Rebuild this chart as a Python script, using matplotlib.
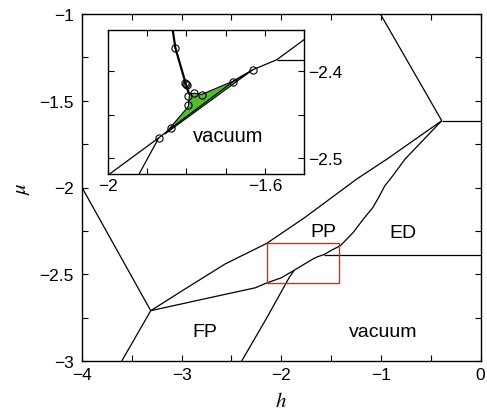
import matplotlib
matplotlib.use("Agg")
import matplotlib.pyplot as plt
from matplotlib.patches import Rectangle, Polygon
from matplotlib.ticker import MultipleLocator, FixedLocator

plt.rcParams['font.family'] = ['Liberation Sans', 'DejaVu Sans']
plt.rcParams['mathtext.fontset'] = 'stix'

# ---- data (h, mu) ----
# boundary from (-4,-2) to triple point
left_h = [-4.0, -3.31]
left_mu = [-2.0, -2.71]
# triple point down to bottom
fp_left_h = [-3.31, -3.601]
fp_left_mu = [-2.71, -3.0]
# upper curve (PP upper boundary)
upper_h = [-3.31, -2.966, -2.564, -2.146, -1.761, -1.242, -0.938, -0.389]
upper_mu = [-2.71, -2.585, -2.441, -2.322, -2.172, -1.951, -1.836, -1.615]
# lower curve (FP / vacuum / PP / ED)
lower_h = [-3.31, -2.70, -2.26, -2.146, -2.0, -1.870, -1.838, -1.682, -1.631,
           -1.570, -1.5, -1.406, -1.276, -1.176, -1.08, -1.02, -0.96, -0.88, -0.757, -0.389]
lower_mu = [-2.71, -2.633, -2.578, -2.550, -2.5206, -2.477, -2.4656, -2.4121, -2.3981,
            -2.3865, -2.363, -2.335, -2.258, -2.182, -2.115, -2.055, -1.99, -1.932, -1.836, -1.615]
# FP / vacuum boundary
fpv_h = [-2.397, -2.146, -1.922, -1.870]
fpv_mu = [-3.0, -2.752, -2.5206, -2.477]
# top line into the point at right
top_h = [-1.005, -0.389]
top_mu = [-1.0, -1.615]
# horizontal lines
hr1_h = [-0.389, 0.0]
hr1_mu = [-1.615, -1.615]
hr2_h = [-1.570, 0.0]
hr2_mu = [-2.3865, -2.3865]
# steep line in inset
steep_h = [-1.835, -1.828, -1.801, -1.793]
steep_mu = [-2.3508, -2.3726, -2.4151, -2.4264]
# green region
green_h = [-1.855, -1.795, -1.792, -1.780, -1.761, -1.682, -1.631]
green_mu = [-2.4728, -2.4407, -2.4264, -2.4252, -2.4267, -2.4115, -2.3981]
# circles
circ_h = [-1.828, -1.801, -1.803, -1.799, -1.795, -1.780, -1.761, -1.795, -1.682, -1.631, -1.838, -1.870]
circ_mu = [-2.3726, -2.4151, -2.4140, -2.4160, -2.429, -2.425, -2.427, -2.439, -2.412, -2.398, -2.4656, -2.477]
# zoom box
box_h = [-2.146, -1.417]
box_mu = [-2.552, -2.318]

main_xticks = [-4, -3, -2, -1, 0]
main_yticks = [-1, -1.5, -2, -2.5, -3]

fig = plt.figure(figsize=(4.87, 4.14), dpi=100)
ax = fig.add_axes([82/487, 1-362/414, (480.5-82)/487, (362-15)/414])

lw = 0.9
def draw(a, hs, ms, **kw):
    a.plot(hs, ms, color='black', lw=kw.pop('lw', lw), solid_capstyle='butt', **kw)

draw(ax, left_h, left_mu)
draw(ax, fp_left_h, fp_left_mu)
draw(ax, upper_h, upper_mu)
draw(ax, lower_h, lower_mu)
draw(ax, fpv_h, fpv_mu)
draw(ax, top_h, top_mu)
draw(ax, hr1_h, hr1_mu)
draw(ax, hr2_h, hr2_mu)

ax.add_patch(Rectangle((box_h[0], box_mu[0]), box_h[1]-box_h[0], box_mu[1]-box_mu[0],
                       fill=False, edgecolor='#e82020', lw=1.0, zorder=5))

ax.set_xlim(-4, 0)
ax.set_ylim(-3, -1)
ax.xaxis.set_major_locator(FixedLocator(main_xticks))
ax.xaxis.set_minor_locator(MultipleLocator(0.5))
ax.yaxis.set_major_locator(FixedLocator(main_yticks))
ax.yaxis.set_minor_locator(MultipleLocator(0.25))
ax.set_xticklabels(['\u22124', '\u22123', '\u22122', '\u22121', '0'])
ax.set_yticklabels(['\u22121', '\u22121.5', '\u22122', '\u22122.5', '\u22123'])
ax.tick_params(which='both', direction='in', top=True, right=True, length=4.5, width=0.8,
               labelsize=12.5)
ax.tick_params(axis='y', pad=6)
ax.tick_params(axis='x', pad=4)
for s in ax.spines.values():
    s.set_linewidth(1.0)
ax.set_xlabel('$h$', fontsize=15, labelpad=7)
ax.set_ylabel('$\\mu$', fontsize=15, labelpad=5)

ax.text(-1.577, -2.252, 'PP', fontsize=14, ha='center', va='center')
ax.text(-0.774, -2.262, 'ED', fontsize=14, ha='center', va='center')
ax.text(-2.765, -2.831, 'FP', fontsize=14, ha='center', va='center')
ax.text(-0.98, -2.831, 'vacuum', fontsize=14, ha='center', va='center')

# ---- inset ----
ins = fig.add_axes([107.7/487, 1-175/414, (304.3-107.7)/487, (175-31)/414])
ins.set_facecolor('white')
ins.add_patch(Polygon(list(zip(green_h, green_mu)), closed=True, facecolor='#55bb33',
                      edgecolor='black', lw=0.8, zorder=2))
draw(ins, lower_h, lower_mu, zorder=3)
draw(ins, fpv_h, fpv_mu, zorder=3)
draw(ins, hr2_h, hr2_mu, zorder=3)
draw(ins, upper_h, upper_mu, zorder=3)
draw(ins, steep_h, steep_mu, lw=1.6, zorder=3)
ins.plot(circ_h, circ_mu, linestyle='none', marker='o', markersize=5.2,
         markerfacecolor='none', markeredgecolor='black', markeredgewidth=0.8, zorder=4)
ins.text(-1.693, -2.474, 'vacuum', fontsize=14.5, ha='center', va='center')

ins.set_xlim(-2, -1.5)
ins.set_ylim(-2.519, -2.352)
ins.xaxis.set_major_locator(FixedLocator([-2, -1.6]))
ins.xaxis.set_minor_locator(FixedLocator([-1.9, -1.8, -1.7, -1.5]))
ins.yaxis.set_major_locator(FixedLocator([-2.4, -2.5]))
ins.yaxis.set_minor_locator(FixedLocator([-2.45]))
ins.set_xticklabels(['\u22122', '\u22121.6'])
ins.set_yticklabels(['\u22122.4', '\u22122.5'])
ins.tick_params(which='both', direction='in', top=True, right=True, left=True, bottom=True,
                labelleft=False, labelright=True, length=4, width=0.8, labelsize=12.5, pad=3)
for s in ins.spines.values():
    s.set_linewidth(1.0)

fig.savefig('out.png', dpi=100)
